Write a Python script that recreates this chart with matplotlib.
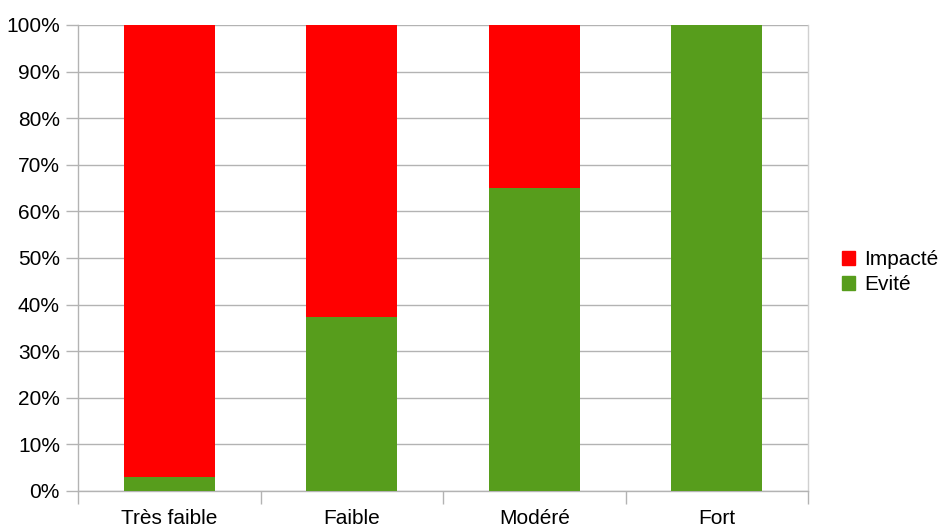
import numpy as np
import matplotlib.pyplot as plt
from matplotlib.patches import Patch
from matplotlib.ticker import FixedLocator, FuncFormatter

plt.rcParams['font.family'] = ['Liberation Sans', 'DejaVu Sans']

categories = ['Très faible', 'Faible', 'Modéré', 'Fort']
evite = [3.0, 37.3, 65.0, 100.0]
impacte = [97.0, 62.7, 35.0, 0.0]

red = '#ff0000'
green = '#579d1c'
grey = '#b3b3b3'

fig = plt.figure(figsize=(9.41, 5.27), dpi=100)
ax = fig.add_axes([78 / 941, 36 / 527, 730 / 941, 466 / 527])

x = np.arange(len(categories))
ax.bar(x, evite, width=0.5, color=green, zorder=3)
ax.bar(x, impacte, width=0.5, bottom=evite, color=red, zorder=3)

ax.set_xlim(-0.5, len(categories) - 0.5)
ax.set_ylim(0, 100)

ax.set_yticks(np.arange(0, 101, 10))
ax.yaxis.set_major_formatter(FuncFormatter(lambda v, p: f'{int(v)}%'))
ax.grid(axis='y', color=grey, linewidth=1, zorder=0)

# category labels centered, ticks at boundaries
ax.set_xticks(x)
ax.set_xticklabels(categories)
ax.tick_params(axis='x', which='major', length=0, labelsize=15, pad=13)
ax.xaxis.set_minor_locator(FixedLocator(np.arange(-0.5, len(categories), 1)))
ax.tick_params(axis='x', which='minor', length=9, color=grey, width=1)
ax.tick_params(axis='y', length=9, color=grey, width=1, labelsize=15, pad=4)

for s in ['left', 'bottom', 'right', 'top']:
    ax.spines[s].set_color(grey)
    ax.spines[s].set_linewidth(1)
ax.spines['right'].set_color('#d0d0d0')
ax.spines['top'].set_visible(False)

handles = [Patch(color=red, label='Impacté'), Patch(color=green, label='Evité')]
fig.legend(handles=handles, loc='center left', bbox_to_anchor=(827 / 941, 1 - 272 / 527),
           frameon=False, fontsize=15, handlelength=0.65, handleheight=0.65,
           handletextpad=0.45, labelspacing=0.3, borderpad=0.2)

fig.savefig('out.png', dpi=100)
